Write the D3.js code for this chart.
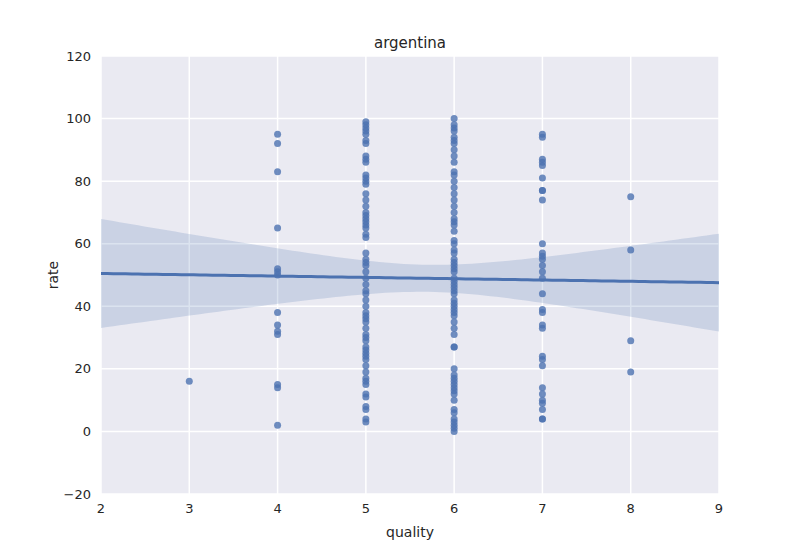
<!DOCTYPE html>
<html lang="en">
<head>
<meta charset="UTF-8">
<script src="https://d3js.org/d3.v7.min.js"></script>
<style>
  body { margin: 0; background: #fff; font-family: "DejaVu Sans", Arial, sans-serif; }
</style>
</head>
<body>
<svg id="chart" width="800" height="550"></svg>
<script>
// rate values per quality level
const q3 = [16];
const q4 = [95, 92, 83, 65, 52, 51, 50, 38, 34, 32, 31, 15, 14, 2];
const q5 = [99, 98, 97, 96, 95, 93, 92, 88, 87, 86, 82, 81, 80, 79, 76, 74, 72, 70, 69, 68, 67, 66, 65, 63, 62,
            57, 55, 54, 53, 51, 49, 47, 45, 44, 42, 40, 38, 37, 36, 35, 33, 31, 30, 29, 27, 26, 25, 24, 23, 21,
            19, 17, 16, 15, 12, 11, 8, 7, 4, 3];
const q6 = [100, 98, 97, 96, 94, 93, 92, 90, 88, 86, 83, 82, 80, 78, 76, 74, 72, 70, 68, 67, 66, 64, 61, 60, 58,
            57, 55, 54, 53, 52, 51, 49, 48, 47, 46, 45, 44, 42, 41, 40, 39, 38, 37, 35, 33, 31, 27, 27, 20, 18,
            17, 16, 15, 14, 13, 12, 10, 7, 6, 4, 3, 2, 1, 0];
const q7 = [95, 94, 87, 86, 85, 81, 77, 77, 74, 60, 57, 56, 55, 53, 51, 49, 44, 39, 38, 34, 33, 24, 23, 21,
            14, 12, 10, 9, 7, 4, 4];
const q8 = [75, 58, 29, 19];
const groups = [[3, q3], [4, q4], [5, q5], [6, q6], [7, q7], [8, q8]];
const xTicks = [2, 3, 4, 5, 6, 7, 8, 9];
const yTicks = [-20, 0, 20, 40, 60, 80, 100, 120];

const points = groups.flatMap(([q, arr]) => arr.map(r => ({ q, r })));

const svg = d3.select("#chart");
const pL = 101, pR = 719, pT = 56, pB = 494;
const x = d3.scaleLinear().domain([2, 9]).range([pL, pR]);
const y = d3.scaleLinear().domain([-20, 120]).range([pB, pT]);
const color = "#4C72B0";

svg.append("rect").attr("x", pL).attr("y", pT)
  .attr("width", pR - pL).attr("height", pB - pT).attr("fill", "#EAEAF2");

svg.append("g").selectAll("line").data(xTicks).join("line")
  .attr("x1", d => x(d)).attr("x2", d => x(d)).attr("y1", pT).attr("y2", pB)
  .attr("stroke", "#fff").attr("stroke-width", 1.5);
svg.append("g").selectAll("line").data(yTicks).join("line")
  .attr("y1", d => y(d)).attr("y2", d => y(d)).attr("x1", pL).attr("x2", pR)
  .attr("stroke", "#fff").attr("stroke-width", 1.5);

// least squares fit with 95% confidence band
const n = points.length;
const mx = d3.mean(points, p => p.q), my = d3.mean(points, p => p.r);
const sxx = d3.sum(points, p => (p.q - mx) ** 2);
const slope = d3.sum(points, p => (p.q - mx) * (p.r - my)) / sxx;
const icpt = my - slope * mx;
const s = Math.sqrt(d3.sum(points, p => (p.r - icpt - slope * p.q) ** 2) / (n - 2));
const grid = d3.range(0, 101).map(i => 2 + i * 7 / 100);
const band = grid.map(g => {
  const yh = icpt + slope * g;
  const se = 1.97 * s * Math.sqrt(1 / n + (g - mx) ** 2 / sxx);
  return { g, lo: yh - se, hi: yh + se, yh };
});

svg.append("path").datum(band)
  .attr("d", d3.area().x(d => x(d.g)).y0(d => y(d.lo)).y1(d => y(d.hi)))
  .attr("fill", color).attr("fill-opacity", 0.2);

svg.append("g").selectAll("circle").data(points).join("circle")
  .attr("cx", d => x(d.q)).attr("cy", d => y(d.r)).attr("r", 3.5)
  .attr("fill", color).attr("fill-opacity", 0.8);

svg.append("path").datum(band)
  .attr("d", d3.line().x(d => x(d.g)).y(d => y(d.yh)))
  .attr("fill", "none").attr("stroke", color).attr("stroke-width", 3);

svg.append("g").selectAll("text").data(xTicks).join("text")
  .attr("x", d => x(d)).attr("y", pB + 19).attr("text-anchor", "middle")
  .attr("font-size", 13).attr("fill", "#262626").text(d => d);
svg.append("g").selectAll("text").data(yTicks).join("text")
  .attr("x", pL - 10).attr("y", d => y(d) + 4.5).attr("text-anchor", "end")
  .attr("font-size", 13).attr("fill", "#262626").text(d => d < 0 ? "\u2212" + (-d) : d);

svg.append("text").attr("x", (pL + pR) / 2).attr("y", 537).attr("text-anchor", "middle")
  .attr("font-size", 14).attr("fill", "#262626").text("quality");
svg.append("text").attr("transform", `translate(58,${(pT + pB) / 2}) rotate(-90)`)
  .attr("text-anchor", "middle").attr("font-size", 14).attr("fill", "#262626").text("rate");
svg.append("text").attr("x", (pL + pR) / 2).attr("y", 48).attr("text-anchor", "middle")
  .attr("font-size", 15).attr("fill", "#262626").text("argentina");
</script>
</body>
</html>
